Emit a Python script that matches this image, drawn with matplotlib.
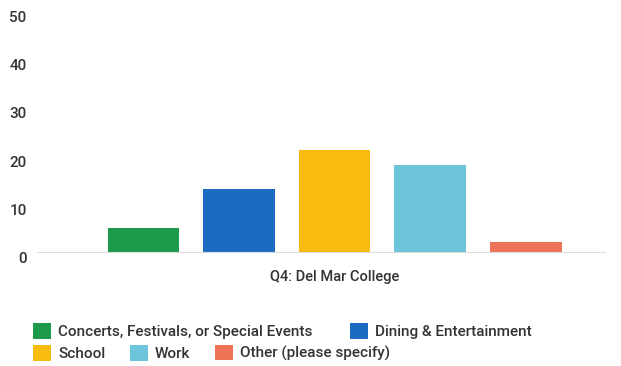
import matplotlib.pyplot as plt
import matplotlib.transforms as mtransforms
from matplotlib.patches import Patch

# data
categories = ['Concerts, Festivals, or Special Events', 'Dining & Entertainment',
              'School', 'Work', 'Other (please specify)']
values = [5, 13, 21, 18, 2]
colors = ['#1c9a49', '#1b6cc0', '#f8bb10', '#6cc5db', '#ee7356']
group_label = 'Q4: Del Mar College'
yticks = [0, 10, 20, 30, 40, 50]

plt.rcParams['font.family'] = ['Roboto', 'DejaVu Sans']
txt = '#333333'

fig = plt.figure(figsize=(6.21, 3.66), dpi=100)
ax = fig.add_axes([37 / 621, 114.3 / 366, 568 / 621, 241.7 / 366])

x = list(range(len(values)))
ax.bar(x, values, width=0.75, color=colors, zorder=2)

ax.set_xlim(-1.113, 4.83)
ax.set_ylim(0, 50)
ax.set_yticks(yticks)
ax.set_yticklabels([str(t) for t in yticks], fontsize=11, fontweight='medium', color=txt)
ax.tick_params(axis='y', length=0, pad=7.5)
ax.set_xticks([])
shift = mtransforms.ScaledTranslation(0, -6 / 100, fig.dpi_scale_trans)
for lab in ax.get_yticklabels():
    lab.set_transform(lab.get_transform() + shift)

for s in ['top', 'right', 'left']:
    ax.spines[s].set_visible(False)
ax.spines['bottom'].set_color('#dcdcdc')
ax.spines['bottom'].set_linewidth(0.8)

trans = mtransforms.blended_transform_factory(ax.transData, ax.transAxes)
ax.text(2, -25 / 241.7, group_label, transform=trans, ha='center', va='center',
        fontsize=10.5, fontweight='medium', color=txt)

# legend, one entry per swatch position
legend_pos = [(33, 331), (350, 331), (33, 353), (130, 353), (215, 353)]
for (px, py), lab, c in zip(legend_pos, categories, colors):
    leg = fig.legend([Patch(facecolor=c, edgecolor='none')], [lab], loc='center left',
                     bbox_to_anchor=(px / 621, 1 - py / 366), frameon=False,
                     fontsize=11, handlelength=1.18, handleheight=1.18,
                     handletextpad=0.46, borderpad=0, borderaxespad=0)
    for t in leg.get_texts():
        t.set_fontweight('medium')
        t.set_color(txt)

fig.savefig('out.png', dpi=100)
